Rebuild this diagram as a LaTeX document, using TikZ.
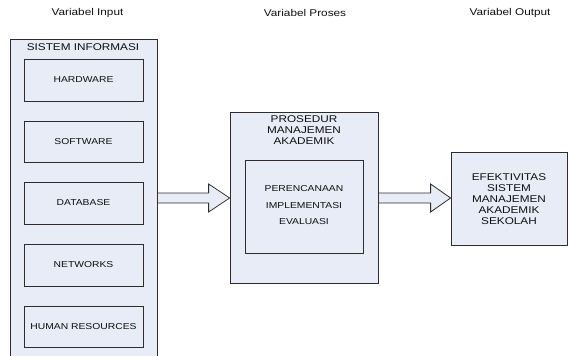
\documentclass[tikz,border=0pt]{standalone}
\usepackage{fontspec}
\setmainfont{Liberation Sans}
\newfontfamily\arx[FakeStretch=1.2]{Liberation Sans}
\usetikzlibrary{calc}
\definecolor{boxfill}{RGB}{231,236,246}
\definecolor{boxline}{RGB}{45,45,45}
\definecolor{txt}{RGB}{15,15,15}
\tikzset{
  box/.style={draw=boxline, fill=boxfill, line width=0.8pt, inner sep=0pt, minimum width=#1},
  bigtxt/.style={font=\arx\fontsize{9.8}{11}\selectfont, text=txt, inner sep=0pt, align=center},
  smalltxt/.style={font=\arx\fontsize{8.6}{16.5}\selectfont, text=txt, inner sep=0pt, align=center},
  fatarrow/.style={draw=boxline, fill=boxfill, line width=0.8pt, line join=miter}
}
\begin{document}
\begin{tikzpicture}[x=1pt,y=-1pt]
\useasboundingbox (0,0) rectangle (568,356);
\clip (0,0) rectangle (568,356);
\fill[white] (0,0) rectangle (568,356);

% header labels
\node[bigtxt] (hin) at (87.5,13) {Variabel Input};
\node[bigtxt] (hpr) at (305,13) {Variabel Proses};
\node[bigtxt] (hout) at (510,13) {Variabel Output};

% left column
\node[box=147pt, minimum height=319pt] (si) at (83.5,198.5) {};
\node[bigtxt] (sit) at (83,47) {SISTEM INFORMASI};
\node[box=119pt, minimum height=42pt] (hw) at (83.5,80) {};
\node[smalltxt] at (hw) {HARDWARE};
\node[box=119pt, minimum height=41pt] (sw) at (83.5,141.5) {};
\node[smalltxt] at (sw) {SOFTWARE};
\node[box=119pt, minimum height=42pt] (db) at (83.5,203) {};
\node[smalltxt] at (db) {DATABASE};
\node[box=119pt, minimum height=42pt] (nw) at (83.5,265) {};
\node[smalltxt] at (nw) {NETWORKS};
\node[box=119pt, minimum height=41pt] (hr) at (83.5,326.5) {};
\node[smalltxt] at (hr) {HUMAN RESOURCES};

% middle
\node[box=148pt, minimum height=171pt] (pm) at (304,197.5) {};
\node[bigtxt, anchor=north] (pmt) at (304,115) {PROSEDUR\\MANAJEMEN\\AKADEMIK};
\node[box=118pt, minimum height=93pt] (pin) at (304,206.5) {};
\node[smalltxt] (pint) at (304,205.5) {PERENCANAAN\\IMPLEMENTASI\\EVALUASI};

% right
\node[box=116pt, minimum height=93pt] (out) at (509,198.5) {};
\node[bigtxt] (outt) at (509,199) {EFEKTIVITAS\\SISTEM\\MANAJEMEN\\AKADEMIK\\SEKOLAH};

% axis of the arrows
\coordinate (ax) at (0,198);

% arrow 1
\draw[fatarrow] ($(si.east |- ax)+(0,-5)$) -- ($(pm.west |- ax)+(-21,-5)$) -- ++(0,-9)
  -- (pm.west |- ax) -- ++(-21,14) -- ++(0,-9) -- ($(si.east |- ax)+(0,5)$) -- cycle;
% arrow 2
\draw[fatarrow] ($(pm.east |- ax)+(0,-5)$) -- ($(out.west |- ax)+(-20,-5)$) -- ++(0,-9)
  -- (out.west |- ax) -- ++(-20,14) -- ++(0,-9) -- ($(pm.east |- ax)+(0,5)$) -- cycle;
\end{tikzpicture}
\end{document}
